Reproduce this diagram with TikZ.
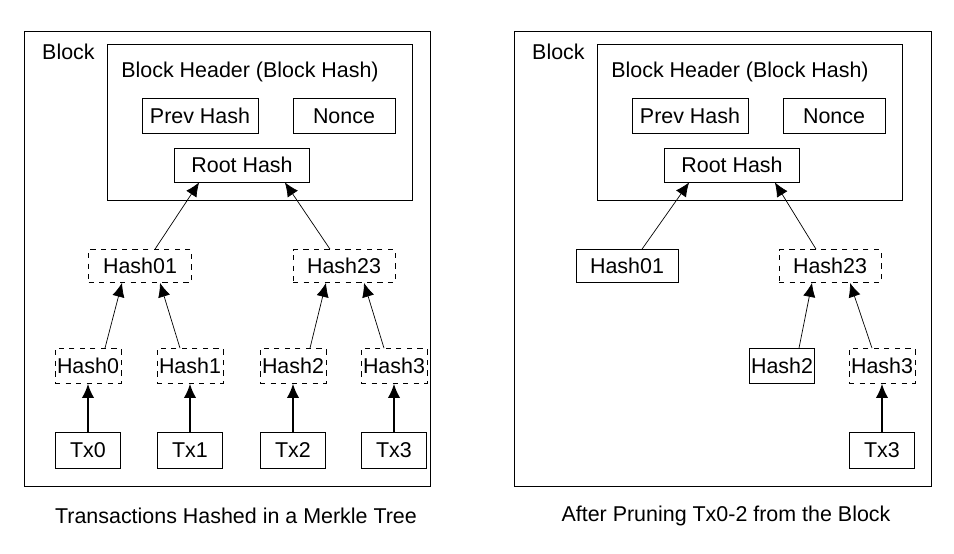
\documentclass[tikz,border=0pt]{standalone}
\usepackage{fontspec}
\setmainfont{Liberation Sans}
\usetikzlibrary{arrows.meta}

\begin{document}
\begin{tikzpicture}[x=0.02cm,y=-0.02cm,
    font=\fontsize{12.2}{14}\selectfont,
    box/.style = {draw, thin, inner sep=0pt, minimum height=#1},
    box/.default = 0.7cm,
    dbox/.style = {box=#1, dashed},
    dbox/.default = 0.66cm,
    up/.style = {-{Latex[length=8pt,width=7pt]}, thin},
    tx/.style = {-{Latex[length=8pt,width=7pt]}, thick}
                    ]
    \useasboundingbox (0,0) rectangle (954,554);
    \def\dx{490}
    % left block
    \draw (24,31) rectangle (430,486);
    \draw (107,44) rectangle (412,200);
    \node[anchor=west] at (36,52) {Block};
    \node at (250,72) {Block Header (Block Hash)};
    \node[box, minimum width=2.32cm] at (200,116) (prev) {Prev Hash};
    \node[box, minimum width=2.04cm] at (344,116) (nonce) {Nonce};
    \node[box=0.68cm, minimum width=2.7cm] at (242,165) (root) {Root Hash};
    \node[dbox, minimum width=2.06cm] at (140,266) (h01) {Hash01};
    \node[dbox, minimum width=2.04cm] at (344,266) (h23) {Hash23};
    \node[dbox=0.7cm, minimum width=1.32cm] at (88,366) (h0) {Hash0};
    \node[dbox=0.7cm, minimum width=1.32cm] at (190,366) (h1) {Hash1};
    \node[dbox=0.7cm, minimum width=1.32cm] at (293,366) (h2) {Hash2};
    \node[dbox=0.7cm, minimum width=1.32cm] at (394,366) (h3) {Hash3};
    \node[box=0.72cm, minimum width=1.3cm] at (88,450) (t0) {Tx0};
    \node[box=0.72cm, minimum width=1.3cm] at (190,450) (t1) {Tx1};
    \node[box=0.72cm, minimum width=1.3cm] at (293,450) (t2) {Tx2};
    \node[box=0.72cm, minimum width=1.3cm] at (394,450) (t3) {Tx3};
    \draw[up] ([xshift=0.3cm]h01.north) -- ([xshift=0.5cm]root.south west);
    \draw[up] ([xshift=-0.28cm]h23.north) -- ([xshift=-0.5cm]root.south east);
    \draw[up] ([xshift=0.34cm]h0.north) -- ([xshift=-0.36cm]h01.south);
    \draw[up] ([xshift=-0.2cm]h1.north) -- ([xshift=0.4cm]h01.south);
    \draw[up] ([xshift=0.34cm]h2.north) -- ([xshift=-0.36cm]h23.south);
    \draw[up] ([xshift=-0.2cm]h3.north) -- ([xshift=0.4cm]h23.south);
    \foreach \i in {0,1,2,3}
        \draw[tx] (t\i) -- (h\i);
    \node at (236,516) {Transactions Hashed in a Merkle Tree};
    % right block (pruned)
    \draw (24+\dx,31) rectangle (441+\dx,486);
    \draw (107+\dx,44) rectangle (412+\dx,200);
    \node[anchor=west] at (36+\dx,52) {Block};
    \node at (250+\dx,72) {Block Header (Block Hash)};
    \node[box, minimum width=2.32cm] at (200+\dx,116) (rprev) {Prev Hash};
    \node[box, minimum width=2.04cm] at (344+\dx,116) (rnonce) {Nonce};
    \node[box=0.68cm, minimum width=2.7cm] at (242+\dx,165) (rroot) {Root Hash};
    \node[box=0.66cm, minimum width=2.04cm] at (137+\dx,266) (rh01) {Hash01};
    \node[dbox, minimum width=2.04cm] at (340+\dx,266) (rh23) {Hash23};
    \node[box, minimum width=1.3cm] at (292+\dx,366) (rh2) {Hash2};
    \node[dbox=0.7cm, minimum width=1.32cm] at (392+\dx,366) (rh3) {Hash3};
    \node[box=0.72cm, minimum width=1.3cm] at (392+\dx,450) (rt3) {Tx3};
    \draw[up] ([xshift=0.3cm]rh01.north) -- ([xshift=0.5cm]rroot.south west);
    \draw[up] ([xshift=-0.28cm]rh23.north) -- ([xshift=-0.5cm]rroot.south east);
    \draw[up] ([xshift=0.34cm]rh2.north) -- ([xshift=-0.36cm]rh23.south);
    \draw[up] ([xshift=-0.2cm]rh3.north) -- ([xshift=0.4cm]rh23.south);
    \draw[tx] (rt3) -- (rh3);
    \node at (236+\dx,516) {After Pruning Tx0-2 from the Block};
\end{tikzpicture}
\end{document}
